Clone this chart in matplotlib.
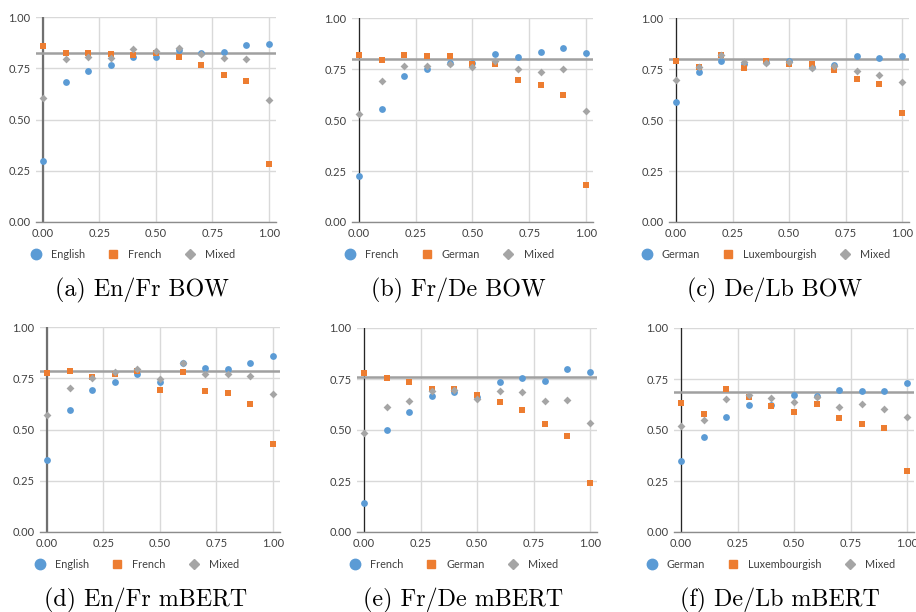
import matplotlib.pyplot as plt
from matplotlib.lines import Line2D
import numpy as np

x = np.round(np.arange(0, 1.01, 0.1), 2)

# (a) En/Fr BOW
a_english = [0.297, 0.682, 0.736, 0.765, 0.804, 0.803, 0.838, 0.822, 0.829, 0.863, 0.868]
a_french = [0.858, 0.824, 0.824, 0.821, 0.814, 0.824, 0.804, 0.765, 0.716, 0.687, 0.281]
a_mixed = [0.604, 0.794, 0.807, 0.801, 0.843, 0.832, 0.847, 0.819, 0.798, 0.794, 0.597]
a_ref = 0.822

# (b) Fr/De BOW
b_french = [0.226, 0.556, 0.715, 0.751, 0.779, 0.779, 0.823, 0.810, 0.831, 0.851, 0.830]
b_german = [0.818, 0.793, 0.818, 0.813, 0.813, 0.775, 0.774, 0.695, 0.670, 0.621, 0.179]
b_mixed = [0.530, 0.692, 0.766, 0.767, 0.774, 0.761, 0.787, 0.749, 0.733, 0.748, 0.546]
b_ref = 0.797

# (c) De/Lb BOW
c_german = [0.587, 0.733, 0.787, 0.775, 0.785, 0.790, 0.759, 0.770, 0.815, 0.805, 0.815]
c_lux = [0.789, 0.762, 0.818, 0.754, 0.790, 0.774, 0.774, 0.744, 0.700, 0.675, 0.533]
c_mixed = [0.697, 0.761, 0.818, 0.785, 0.780, 0.784, 0.757, 0.764, 0.739, 0.721, 0.684]
c_ref = 0.797

# (d) En/Fr mBERT
d_english = [0.353, 0.595, 0.691, 0.733, 0.772, 0.732, 0.823, 0.798, 0.795, 0.824, 0.857]
d_french = [0.776, 0.785, 0.756, 0.771, 0.787, 0.693, 0.780, 0.688, 0.678, 0.624, 0.429]
d_mixed = [0.571, 0.701, 0.751, 0.782, 0.793, 0.745, 0.823, 0.772, 0.769, 0.763, 0.673]
d_ref = 0.787

# (e) Fr/De mBERT
e_french = [0.143, 0.502, 0.587, 0.669, 0.687, 0.664, 0.733, 0.757, 0.741, 0.797, 0.784]
e_german = [0.779, 0.754, 0.734, 0.703, 0.700, 0.670, 0.636, 0.597, 0.528, 0.469, 0.238]
e_mixed = [0.485, 0.613, 0.644, 0.689, 0.695, 0.654, 0.692, 0.684, 0.644, 0.648, 0.536]
e_ref = 0.761

# (f) De/Lb mBERT
f_german = [0.349, 0.466, 0.562, 0.623, 0.625, 0.670, 0.667, 0.695, 0.690, 0.689, 0.728]
f_lux = [0.630, 0.577, 0.700, 0.661, 0.616, 0.587, 0.626, 0.557, 0.528, 0.508, 0.297]
f_mixed = [0.520, 0.551, 0.654, 0.670, 0.659, 0.636, 0.661, 0.615, 0.626, 0.602, 0.562]
f_ref = 0.684

BLUE = '#5B9BD5'
ORANGE = '#ED7D31'
GRAY = '#A5A5A5'

W, H = 916, 612
fig = plt.figure(figsize=(W / 100, H / 100), dpi=100)
plt.rcParams['font.family'] = ['Lato', 'DejaVu Sans']

# pixel positions: (x of 0, x of 1, y of 1, y of 0)
panels = [
    ((43, 269, 17, 222), a_english, a_french, a_mixed, a_ref, ['English', 'French', 'Mixed'], '(a) En/Fr BOW', True),
    ((359, 586, 18, 222), b_french, b_german, b_mixed, b_ref, ['French', 'German', 'Mixed'], '(b) Fr/De BOW', False),
    ((676, 902, 18, 222), c_german, c_lux, c_mixed, c_ref, ['German', 'Luxembourgish', 'Mixed'], '(c) De/Lb BOW', False),
    ((47, 273, 327, 532), d_english, d_french, d_mixed, d_ref, ['English', 'French', 'Mixed'], '(d) En/Fr mBERT', True),
    ((364, 590, 328, 532), e_french, e_german, e_mixed, e_ref, ['French', 'German', 'Mixed'], '(e) Fr/De mBERT', False),
    ((681, 907, 328, 532), f_german, f_lux, f_mixed, f_ref, ['German', 'Luxembourgish', 'Mixed'], '(f) De/Lb mBERT', False),
]

x_lo, x_hi = -0.03, 1.03

for (x0, x1, ytop, ybot), s1, s2, s3, ref, names, caption, thick in panels:
    sc = x1 - x0
    left = x0 + x_lo * sc
    right = x0 + x_hi * sc
    mid = (left + right) / 2
    ax = fig.add_axes([left / W, 1 - ybot / H, (right - left) / W, (ybot - ytop) / H])
    ax.set_xlim(x_lo, x_hi)
    ax.set_ylim(0, 1)
    for s in ['top', 'right', 'left']:
        ax.spines[s].set_visible(False)
    ax.spines['bottom'].set_color('#8C8C8C')
    ax.spines['bottom'].set_linewidth(1.0)
    ax.set_xticks([0, 0.25, 0.5, 0.75, 1.0])
    ax.set_yticks([0, 0.25, 0.5, 0.75, 1.0])
    ax.set_xticklabels(['0.00', '0.25', '0.50', '0.75', '1.00'])
    ax.set_yticklabels(['0.00', '0.25', '0.50', '0.75', '1.00'])
    ax.tick_params(length=0, labelsize=8, colors='#404040', pad=4)
    ax.grid(True, color='#D9D9D9', linewidth=1.0)
    ax.set_axisbelow(True)
    ax.axvline(0, color='#707070' if thick else '#262626', linewidth=1.6 if thick else 0.9, zorder=1)
    ax.axhline(ref, color='#A0A0A0', linewidth=1.8, zorder=1)

    ax.scatter(x, s1, s=24, marker='o', color=BLUE, zorder=3, linewidths=0)
    ax.scatter(x, s2, s=14, marker='s', color=ORANGE, zorder=4, linewidths=0)
    ax.scatter(x, s3, s=16, marker='D', color=GRAY, zorder=5, linewidths=0)

    handles = [
        Line2D([], [], linestyle='none', marker='o', markersize=7.5, color=BLUE),
        Line2D([], [], linestyle='none', marker='s', markersize=6, color=ORANGE),
        Line2D([], [], linestyle='none', marker='D', markersize=5.5, color=GRAY),
    ]
    fig.legend(handles, names, loc='center', bbox_to_anchor=((mid - 26) / W, 1 - (ybot + 32) / H),
               ncol=3, frameon=False, fontsize=7.8, handletextpad=0.4, columnspacing=1.6,
               labelcolor='#404040')

    fig.text((mid - 14) / W, 1 - (ybot + 68) / H, caption,
             family='cmr10', fontsize=17.3, ha='center', va='center')

fig.savefig('out.png', dpi=100)
